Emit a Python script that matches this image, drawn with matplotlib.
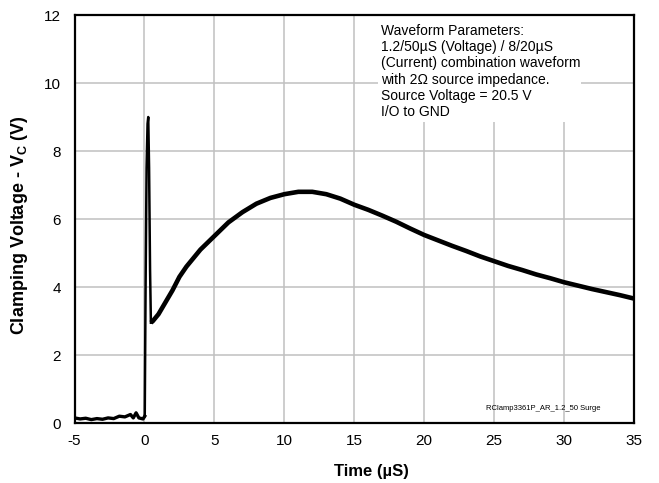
import matplotlib
matplotlib.use("Agg")
import matplotlib.pyplot as plt
from matplotlib.patches import Rectangle

plt.rcParams['font.family'] = ['Liberation Sans', 'DejaVu Sans']
plt.rcParams['axes.unicode_minus'] = False

# pre-trigger baseline
t_pre = [-5.0, -4.6, -4.2, -3.8, -3.4, -3.0, -2.6, -2.2, -1.8, -1.4, -1.0, -0.8, -0.6, -0.4, -0.1, 0.02]
v_pre = [0.15, 0.12, 0.14, 0.10, 0.13, 0.11, 0.15, 0.13, 0.20, 0.18, 0.25, 0.15, 0.30, 0.15, 0.12, 0.2]

# fast spike at the surge front
t_spike = [0.02, 0.08, 0.15, 0.22, 0.27, 0.33, 0.40, 0.46]
v_spike = [0.2, 4.0, 7.5, 8.8, 9.0, 7.5, 4.5, 2.95]

# clamped waveform body
t_body = [0.46, 0.6, 1, 1.5, 2, 2.5, 3, 4, 5, 6, 7, 8, 9, 10, 11, 12, 13, 14, 15, 16, 17,
          18, 19, 20, 21, 22, 23, 24, 25, 26, 27, 28, 29, 30, 31, 32, 33, 34, 35]
v_body = [2.95, 3.0, 3.2, 3.55, 3.9, 4.3, 4.6, 5.1, 5.5, 5.9, 6.2, 6.45, 6.62, 6.73, 6.8, 6.8,
          6.73, 6.6, 6.42, 6.27, 6.1, 5.92, 5.72, 5.53, 5.37, 5.21, 5.06, 4.9, 4.76, 4.62,
          4.5, 4.37, 4.26, 4.14, 4.04, 3.94, 3.85, 3.76, 3.66]

x_ticks = [-5, 0, 5, 10, 15, 20, 25, 30, 35]
y_ticks = [0, 2, 4, 6, 8, 10, 12]

info = ("Waveform Parameters:\n"
        "1.2/50µS (Voltage) / 8/20µS\n"
        "(Current) combination waveform\n"
        "with 2Ω source impedance.\n"
        "Source Voltage = 20.5 V\n"
        "I/O to GND")

fig = plt.figure(figsize=(6.59, 4.83), dpi=100)
ax = fig.add_axes([0.1131, 0.1242, 0.849, 0.8447])

ax.plot(t_pre, v_pre, color="black", lw=2.4, zorder=3)
ax.plot(t_spike, v_spike, color="black", lw=1.8, zorder=3)
ax.plot(t_body, v_body, color="black", lw=3.3, zorder=3, solid_capstyle="butt")

ax.set_xlim(-5, 35)
ax.set_ylim(0, 12)
ax.set_xticks(x_ticks)
ax.set_yticks(y_ticks)
ax.tick_params(axis="x", length=0, labelsize=11, pad=8)
ax.tick_params(axis="y", length=0, labelsize=11, pad=10)
ax.grid(True, color="#c0c0c0", lw=1.1)
for s in ax.spines.values():
    s.set_linewidth(1.6)
    s.set_color("black")

# white box behind the notes
ax.add_patch(Rectangle((0.5425, 0.738), 0.3625, 0.262, transform=ax.transAxes,
                       facecolor="white", edgecolor="none", zorder=2))
ax.text(0.548, 0.978, info, transform=ax.transAxes, fontsize=10, va="top", ha="left",
        zorder=4, linespacing=1.2)
ax.text(28.5, 0.44, "RClamp3361P_AR_1.2_50 Surge", fontsize=5.5, ha="center", va="center",
        zorder=4)

ax.set_xlabel("Time (µS)", fontsize=12, fontweight="bold")
ax.set_ylabel("Clamping Voltage - V$_\\mathregular{C}$ (V)", fontsize=13, fontweight="bold")
ax.xaxis.set_label_coords(0.53, -0.1)
ax.yaxis.set_label_coords(-0.079, 0.485)

fig.savefig("out.png", dpi=100)
